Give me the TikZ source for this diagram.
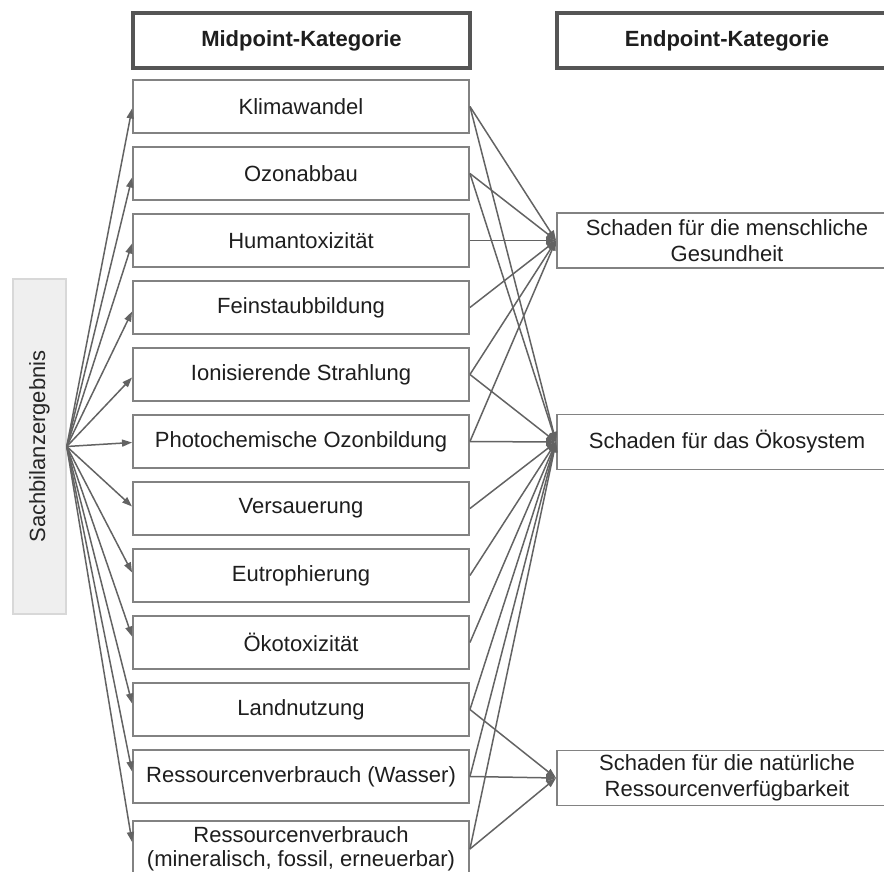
\documentclass[tikz,border=0pt]{standalone}
\usepackage{fontspec}
\setmainfont{Liberation Sans}
\usetikzlibrary{arrows.meta}
\definecolor{linegray}{HTML}{636363}
\definecolor{boxgray}{HTML}{828282}
\definecolor{headgray}{HTML}{555555}
\definecolor{inputfill}{HTML}{EFEFEF}
\definecolor{inputline}{HTML}{D8D8D8}
\definecolor{txt}{HTML}{1E1E1E}

\begin{document}
\begin{tikzpicture}[x=1pt,y=-1pt,
  font=\fontsize{22}{26.5}\selectfont, text=txt,
  catbox/.style={draw=boxgray, line width=1.9pt, fill=white,
    minimum width=336pt, minimum height=53pt, inner sep=0pt, align=center},
  headbox/.style={draw=headgray, line width=3.2pt, fill=white,
    minimum height=55pt, inner sep=0pt,
    font=\fontsize{22}{26.5}\selectfont\bfseries},
  endbox/.style={catbox, minimum width=340pt, minimum height=55pt},
  inputbox/.style={draw=inputline, fill=inputfill, line width=1.5pt,
    minimum width=53pt, minimum height=335pt, inner sep=0pt},
  link/.style={draw=linegray, line width=1.5pt,
    -{Triangle[length=10pt,width=7pt]}},
]
\clip (0,0) rectangle (884,872);

% column headers
\node[headbox, minimum width=337pt] (mh) at (301.5,40.5) {Midpoint-Kategorie};
\node[headbox, minimum width=340pt] (eh) at (727,40.5) {Endpoint-Kategorie};

% inventory result
\node[inputbox] (S) at (39.5,446.5) {\rotatebox{90}{\color{black!85}Sachbilanzergebnis}};

% midpoint categories
\node[catbox] (m1)  at (301,106.5) {Klimawandel};
\node[catbox] (m2)  at (301,173.5) {Ozonabbau};
\node[catbox] (m3)  at (301,240.5) {Humantoxizität};
\node[catbox] (m4)  at (301,307.5) {Feinstaubbildung};
\node[catbox] (m5)  at (301,374.5) {Ionisierende Strahlung};
\node[catbox] (m6)  at (301,441.5) {Photochemische Ozonbildung};
\node[catbox] (m7)  at (301,508.5) {Versauerung};
\node[catbox] (m8)  at (301,575.5) {Eutrophierung};
\node[catbox] (m9)  at (301,642.5) {Ökotoxizität};
\node[catbox] (m10) at (301,709.5) {Landnutzung};
\node[catbox] (m11) at (301,776.5) {Ressourcenverbrauch (Wasser)};
\node[catbox, minimum height=56pt, font=\fontsize{22}{24}\selectfont] (m12) at (301,849)
  {Ressourcenverbrauch\\(mineralisch, fossil, erneuerbar)};

% endpoint categories
\node[endbox] (eg) at (727,240.5) {Schaden für die menschliche\\Gesundheit};
\node[endbox] (eo) at (727,442) {Schaden für das Ökosystem};
\node[endbox] (en) at (727,778) {Schaden für die natürliche\\Ressourcenverfügbarkeit};

% inventory -> midpoints
\foreach \m/\s in {m1/-2,m2/-4,m3/-3,m4/-4,m5/-3,m6/-1,m7/2,m8/3,m9/6,m10/6,m11/5,m12/7}
  \draw[link] (S.east) -- ([yshift=\s pt]\m.west);

% midpoints -> human health
\foreach \m in {m1,m2,m3,m4,m5,m6}
  \draw[link] (\m.east) -- (eg.west);
% midpoints -> ecosystems
\foreach \m in {m1,m2,m5,m6,m7,m8,m9,m10,m11,m12}
  \draw[link] (\m.east) -- (eo.west);
% midpoints -> resource availability
\foreach \m in {m10,m11,m12}
  \draw[link] (\m.east) -- (en.west);
\end{tikzpicture}
\end{document}
